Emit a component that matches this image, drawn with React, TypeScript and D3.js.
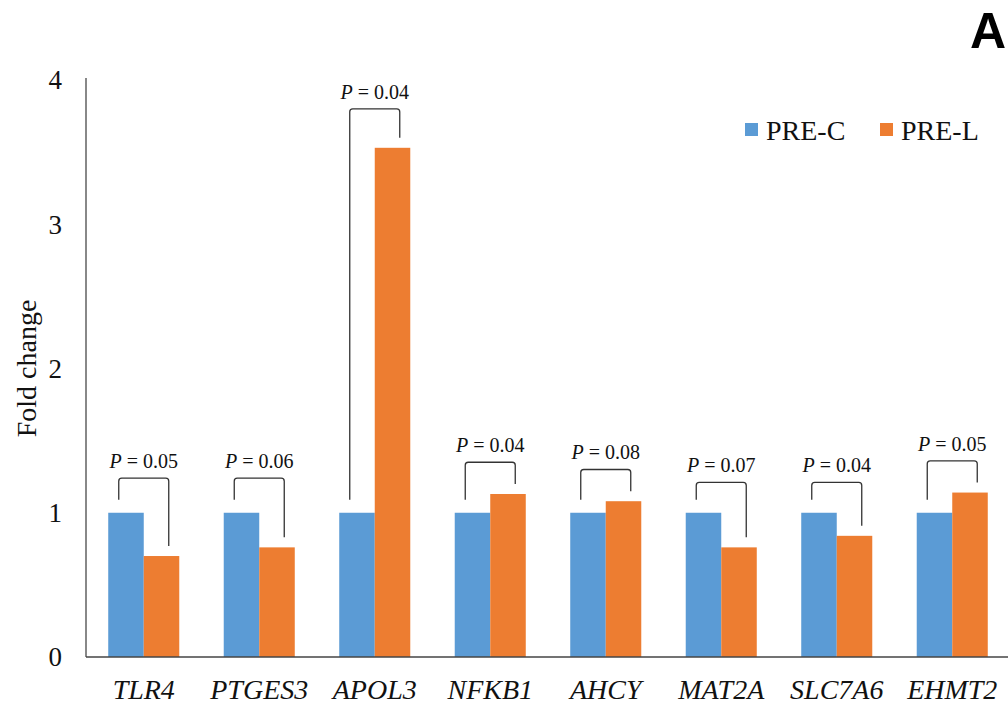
import React from "react";
import * as d3 from "d3";

const genes = ["TLR4", "PTGES3", "APOL3", "NFKB1", "AHCY", "MAT2A", "SLC7A6", "EHMT2"];
const seriesNames = ["PRE-C", "PRE-L"];
const preC = [1, 1, 1, 1, 1, 1, 1, 1];
const preL = [0.7, 0.76, 3.53, 1.13, 1.08, 0.76, 0.84, 1.14];
const pLabels = ["0.05", "0.06", "0.04", "0.04", "0.08", "0.07", "0.04", "0.05"];
const bracketTops = [1.24, 1.24, 3.8, 1.35, 1.3, 1.21, 1.21, 1.36];
const yTicks = [0, 1, 2, 3, 4];
const colors = ["#5B9BD5", "#ED7D31"];

const W = 1008, H = 711;
const left = 86, right = 1010, top = 80, bottom = 657;

export default function App() {
  const x0 = d3.scaleBand<string>().domain(genes).range([left, right]).paddingInner(0.385).paddingOuter(0.1925);
  const x1 = d3.scaleBand<string>().domain(seriesNames).range([0, x0.bandwidth()]);
  const y = d3.scaleLinear().domain([0, 4]).range([bottom, top]);
  const serif = "'Liberation Serif', 'Times New Roman', serif";

  return (
    <svg width={W} height={H} style={{ position: "absolute", left: 0, top: 0, background: "#fff" }}>
      {genes.map((g, i) => {
        const gx = x0(g)!;
        const vals = [preC[i], preL[i]];
        const cx = gx + x0.bandwidth() / 2;
        const lx = cx - 25, rx = cx + 25;
        const ty = y(bracketTops[i]);
        const lb = y(preC[i]) - 13;
        const rb = y(preL[i]) - 10;
        const r = 3;
        const path = `M${lx},${lb} L${lx},${ty + r} Q${lx},${ty} ${lx + r},${ty} L${rx - r},${ty} Q${rx},${ty} ${rx},${ty + r} L${rx},${rb}`;
        return (
          <g key={g}>
            {vals.map((v, j) => (
              <rect key={j} x={gx + x1(seriesNames[j])!} y={y(v)} width={x1.bandwidth()} height={y(0) - y(v)} fill={colors[j]} />
            ))}
            <path d={path} fill="none" stroke="#333" strokeWidth={1.3} />
            <text x={cx} y={ty - 10} textAnchor="middle" fontFamily={serif} fontSize={20} fill="#111">
              <tspan fontStyle="italic">P</tspan>
              <tspan> = {pLabels[i]}</tspan>
            </text>
            <text x={cx} y={699} textAnchor="middle" fontFamily={serif} fontStyle="italic" fontSize={28} fill="#111">{g}</text>
          </g>
        );
      })}
      <line x1={left} x2={left} y1={top - 2} y2={bottom} stroke="#888" strokeWidth={2} />
      <line x1={left} x2={W} y1={bottom} y2={bottom} stroke="#444" strokeWidth={1.5} />
      {yTicks.map((t) => (
        <text key={t} x={62} y={y(t)} dy="0.35em" textAnchor="end" fontFamily={serif} fontSize={27} fill="#111">{t}</text>
      ))}
      <text transform={`translate(36,${(top + bottom) / 2}) rotate(-90)`} textAnchor="middle" fontFamily={serif} fontSize={28} fill="#111">Fold change</text>
      {seriesNames.map((s, j) => {
        const lx = [745, 880][j];
        return (
          <g key={s}>
            <rect x={lx} y={123} width={13} height={13} fill={colors[j]} />
            <text x={lx + 21} y={130} dy="0.35em" fontFamily={serif} fontSize={28} fill="#111">{s}</text>
          </g>
        );
      })}
      <text x={1006} y={48} textAnchor="end" fontFamily="'Liberation Sans', Arial, sans-serif" fontWeight="bold" fontSize={50} fill="#000">A</text>
    </svg>
  );
}
